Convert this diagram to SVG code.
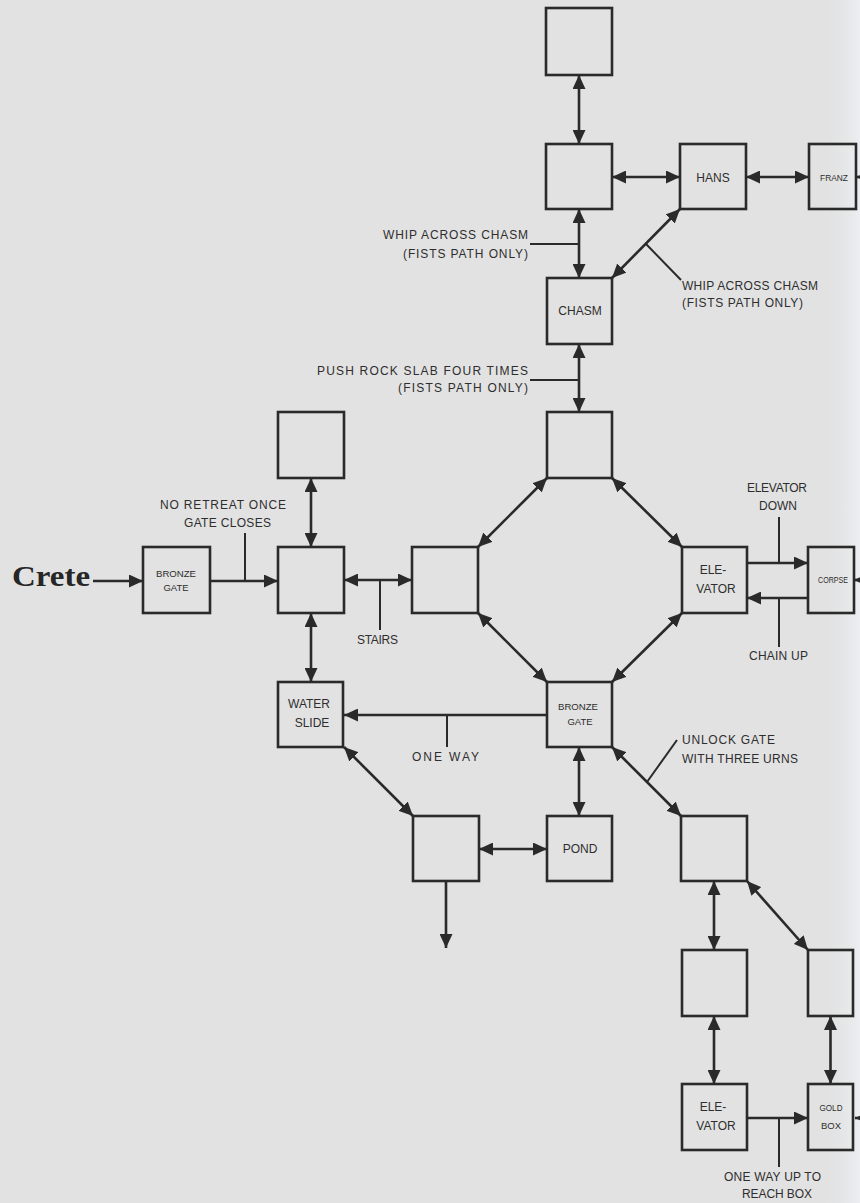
<svg xmlns="http://www.w3.org/2000/svg" width="860" height="1203" viewBox="0 0 860 1203">
<defs>
<linearGradient id="edge" x1="0" y1="0" x2="1" y2="0">
<stop offset="0" stop-color="#e2e2e2" stop-opacity="0"/>
<stop offset="1" stop-color="#eceef1"/>
</linearGradient>
<marker id="ah" viewBox="0 0 14 13" markerWidth="14" markerHeight="13" refX="14" refY="6.5" orient="auto-start-reverse" markerUnits="userSpaceOnUse">
<path d="M0,0 L14,6.5 L0,13 Z" fill="#2a2a2a"/>
</marker>
<style>
.bx{fill:none;stroke:#2a2a2a;stroke-width:2.6}
.ln{fill:none;stroke:#2a2a2a;stroke-width:2.6}
.ld{fill:none;stroke:#2a2a2a;stroke-width:2}
.d{marker-start:url(#ah);marker-end:url(#ah)}
.s{marker-end:url(#ah)}
text{font-family:"Liberation Sans","DejaVu Sans",sans-serif;fill:#2e2e2e}
.lb{font-size:12px}
.nl{font-size:12px;text-anchor:middle}
.sm{font-size:9.5px;text-anchor:middle}
.crete{font-family:"Liberation Serif","DejaVu Serif",serif;font-weight:bold;font-size:30px;fill:#262626}
</style>
</defs>
<rect width="860" height="1203" fill="#e2e2e2"/>
<rect x="820" y="0" width="40" height="1203" fill="url(#edge)"/>

<g id="connectors">
<line class="ln d" x1="579" y1="75" x2="579" y2="144"/>
<line class="ln d" x1="579" y1="209" x2="579" y2="278"/>
<line class="ln d" x1="612" y1="177" x2="680" y2="177"/>
<line class="ln d" x1="746" y1="177" x2="809" y2="177"/>
<line class="ln s" x1="870" y1="177" x2="856" y2="177"/>
<line class="ln d" x1="612" y1="278" x2="680" y2="209"/>
<line class="ln d" x1="579" y1="344" x2="579" y2="412"/>
<line class="ln s" x1="93" y1="581" x2="143" y2="581"/>
<line class="ln s" x1="210" y1="581" x2="278" y2="581"/>
<line class="ln d" x1="311" y1="478" x2="311" y2="547"/>
<line class="ln d" x1="311" y1="613" x2="311" y2="682"/>
<line class="ln d" x1="344" y1="580" x2="412" y2="580"/>
<line class="ln d" x1="547" y1="478" x2="478" y2="547"/>
<line class="ln d" x1="612" y1="478" x2="682" y2="547"/>
<line class="ln d" x1="478" y1="613" x2="547" y2="682"/>
<line class="ln d" x1="682" y1="613" x2="612" y2="682"/>
<line class="ln s" x1="747" y1="563" x2="808" y2="563"/>
<line class="ln s" x1="808" y1="598" x2="747" y2="598"/>
<line class="ln s" x1="870" y1="580" x2="854" y2="580"/>
<line class="ln s" x1="547" y1="715" x2="344" y2="715"/>
<line class="ln d" x1="344" y1="747" x2="413" y2="816"/>
<line class="ln d" x1="579" y1="747" x2="579" y2="816"/>
<line class="ln d" x1="479" y1="849" x2="547" y2="849"/>
<line class="ln s" x1="446" y1="881" x2="446" y2="948"/>
<line class="ln d" x1="612" y1="747" x2="681" y2="816"/>
<line class="ln d" x1="714" y1="881" x2="714" y2="950"/>
<line class="ln d" x1="747" y1="881" x2="808" y2="950"/>
<line class="ln d" x1="714" y1="1016" x2="714" y2="1084"/>
<line class="ln d" x1="830.5" y1="1016" x2="830.5" y2="1084"/>
<line class="ln s" x1="747" y1="1118" x2="808" y2="1118"/>
<line class="ln s" x1="870" y1="1118" x2="855" y2="1118"/>
<!-- leaders -->
<line class="ld" x1="530" y1="244" x2="579" y2="244"/>
<line class="ld" x1="646" y1="244" x2="681" y2="280"/>
<line class="ld" x1="530" y1="380" x2="579" y2="380"/>
<line class="ld" x1="245" y1="533" x2="245" y2="581"/>
<line class="ld" x1="380" y1="580" x2="380" y2="630"/>
<line class="ld" x1="779" y1="517" x2="779" y2="563"/>
<line class="ld" x1="779" y1="598" x2="779" y2="647"/>
<line class="ld" x1="447" y1="715" x2="447" y2="747"/>
<line class="ld" x1="647" y1="782" x2="677" y2="740"/>
<line class="ld" x1="779" y1="1118" x2="779" y2="1167"/>
</g>

<g id="labels">
<text class="lb" x="383" y="239" textLength="145" lengthAdjust="spacing">WHIP ACROSS CHASM</text>
<text class="lb" x="403" y="258" textLength="125" lengthAdjust="spacing">(FISTS PATH ONLY)</text>
<text class="lb" x="682" y="290" textLength="136" lengthAdjust="spacing">WHIP ACROSS CHASM</text>
<text class="lb" x="682" y="307" textLength="121" lengthAdjust="spacing">(FISTS PATH ONLY)</text>
<text class="lb" x="317" y="375" textLength="211" lengthAdjust="spacing">PUSH ROCK SLAB FOUR TIMES</text>
<text class="lb" x="398" y="392" textLength="130" lengthAdjust="spacing">(FISTS PATH ONLY)</text>
<text class="lb" x="160" y="509" textLength="126" lengthAdjust="spacing">NO RETREAT ONCE</text>
<text class="lb" x="184" y="527" textLength="87" lengthAdjust="spacing">GATE CLOSES</text>
<text class="lb" x="357" y="644" textLength="41" lengthAdjust="spacing">STAIRS</text>
<text class="lb" x="747" y="492" textLength="60" lengthAdjust="spacing">ELEVATOR</text>
<text class="lb" x="759" y="510" textLength="38" lengthAdjust="spacing">DOWN</text>
<text class="lb" x="749" y="660" textLength="59" lengthAdjust="spacing">CHAIN UP</text>
<text class="lb" x="412" y="761" textLength="67" lengthAdjust="spacing">ONE WAY</text>
<text class="lb" x="682" y="744" textLength="93" lengthAdjust="spacing">UNLOCK GATE</text>
<text class="lb" x="682" y="763" textLength="116" lengthAdjust="spacing">WITH THREE URNS</text>
<text class="lb" x="724" y="1181" textLength="97" lengthAdjust="spacing">ONE WAY UP TO</text>
<text class="lb" x="742" y="1198" textLength="70" lengthAdjust="spacing">REACH BOX</text>
</g>

<g id="crete"><text class="crete" x="12" y="586" textLength="78" lengthAdjust="spacingAndGlyphs">Crete</text></g>

<g id="n-top"><rect class="bx" x="546" y="8" width="66" height="67"/></g>
<g id="n-hub"><rect class="bx" x="546" y="144" width="66" height="65"/></g>
<g id="n-hans"><rect class="bx" x="680" y="144" width="66" height="65"/><text class="nl" x="713" y="182">HANS</text></g>
<g id="n-franz"><rect class="bx" x="809" y="144" width="47" height="65"/><text class="sm" x="834" y="181" textLength="28" lengthAdjust="spacingAndGlyphs">FRANZ</text></g>
<g id="n-chasm"><rect class="bx" x="547" y="278" width="65" height="66"/><text class="nl" x="580" y="315">CHASM</text></g>
<g id="n-bronze1"><rect class="bx" x="143" y="547" width="67" height="66"/><text class="sm" x="176" y="577" textLength="40" lengthAdjust="spacingAndGlyphs">BRONZE</text><text class="sm" x="176" y="591">GATE</text></g>
<g id="n-upper-left"><rect class="bx" x="278" y="412" width="66" height="66"/></g>
<g id="n-center"><rect class="bx" x="278" y="547" width="66" height="66"/></g>
<g id="n-oct-top"><rect class="bx" x="547" y="412" width="65" height="66"/></g>
<g id="n-oct-left"><rect class="bx" x="412" y="547" width="66" height="66"/></g>
<g id="n-elevator1"><rect class="bx" x="682" y="547" width="65" height="66"/><text class="nl" x="713" y="574">ELE-</text><text class="nl" x="716" y="593">VATOR</text></g>
<g id="n-corpse"><rect class="bx" x="808" y="547" width="46" height="66"/><text class="sm" x="833" y="583" font-size="8" textLength="30" lengthAdjust="spacingAndGlyphs">CORPSE</text></g>
<g id="n-water"><rect class="bx" x="278" y="682" width="65" height="65"/><text class="nl" x="309" y="708">WATER</text><text class="nl" x="312" y="727">SLIDE</text></g>
<g id="n-bronze2"><rect class="bx" x="547" y="682" width="65" height="65"/><text class="sm" x="578" y="710" textLength="40" lengthAdjust="spacingAndGlyphs">BRONZE</text><text class="sm" x="580" y="725">GATE</text></g>
<g id="n-pond-left"><rect class="bx" x="413" y="816" width="66" height="65"/></g>
<g id="n-pond"><rect class="bx" x="547" y="816" width="65" height="65"/><text class="nl" x="580" y="853">POND</text></g>
<g id="n-urn"><rect class="bx" x="681" y="816" width="66" height="65"/></g>
<g id="n-low-left"><rect class="bx" x="682" y="950" width="65" height="66"/></g>
<g id="n-low-right"><rect class="bx" x="808" y="950" width="45" height="66"/></g>
<g id="n-elevator2"><rect class="bx" x="682" y="1084" width="65" height="66"/><text class="nl" x="713" y="1111">ELE-</text><text class="nl" x="716" y="1130">VATOR</text></g>
<g id="n-gold"><rect class="bx" x="808" y="1084" width="45" height="66"/><text class="sm" x="831" y="1111" textLength="23" lengthAdjust="spacingAndGlyphs">GOLD</text><text class="sm" x="831" y="1129">BOX</text></g>
</svg>
